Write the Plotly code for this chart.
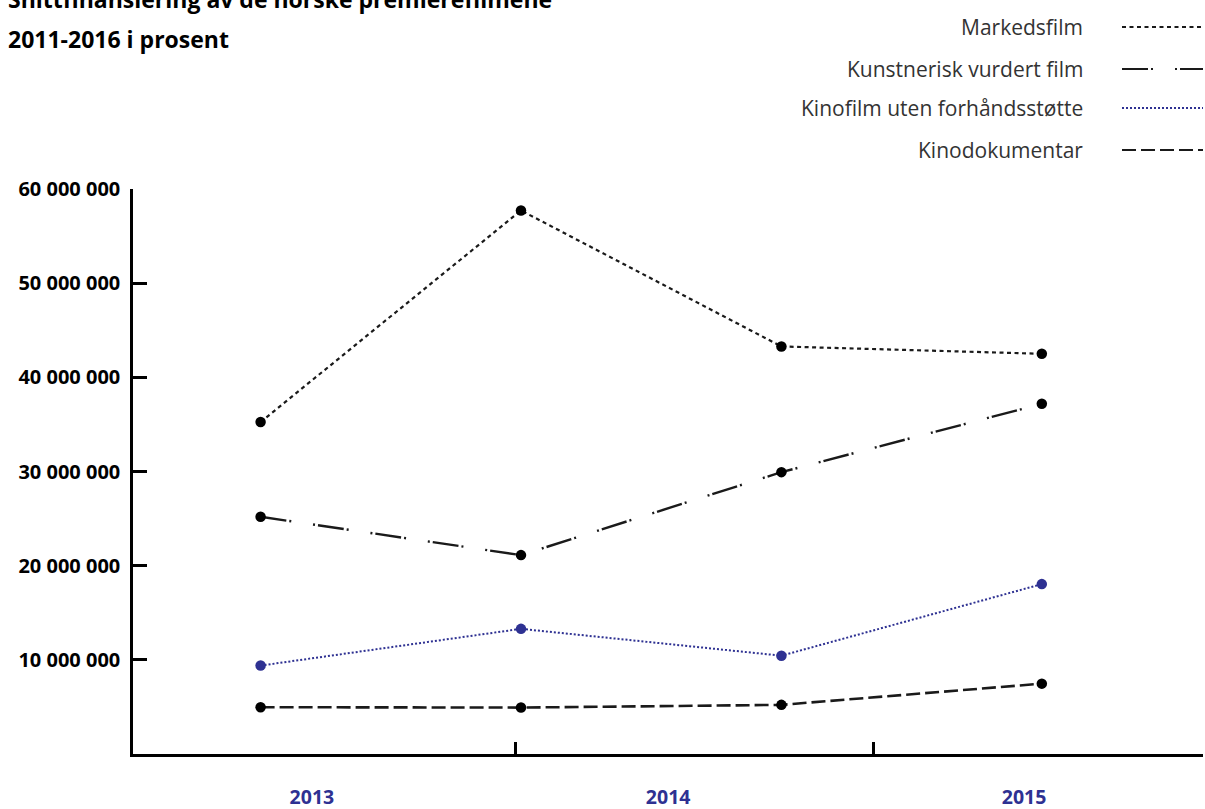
import plotly.graph_objects as go

# ---- data ----
point_index = [0, 1, 2, 3]
markedsfilm = [35.25e6, 57.72e6, 43.28e6, 42.50e6]
kunstnerisk = [25.19e6, 21.12e6, 29.93e6, 37.19e6]
kinofilm_uten = [9.39e6, 13.29e6, 10.44e6, 18.04e6]
kinodokumentar = [4.97e6, 4.93e6, 5.22e6, 7.47e6]

series_names = ["Markedsfilm", "Kunstnerisk vurdert film",
                "Kinofilm uten forhåndsstøtte", "Kinodokumentar"]
year_labels = ["2013", "2014", "2015"]
y_ticks = [10e6, 20e6, 30e6, 40e6, 50e6, 60e6]

title_line1 = "Snittfinansiering av de norske premierefilmene"
title_line2 = "2011-2016 i prosent"

# ---- styles ----
FONT = "Open Sans"
BLACK = "#1a1a1a"
BLUE = "#2e3192"
dashes = ["4px,3.5px", "26px,3px,2px,22px,2px,3px", "2px,2px", "14px,5px"]
colors = [BLACK, BLACK, BLUE, BLACK]
widths = [2.2, 2.4, 2.0, 2.6]

x_range = [-0.49, 3.619]
tick_pos = [0.977, 2.355]
label_pos = [0.197, 1.565, 2.932]

fig = go.Figure()
for name, vals, dash, col, w in zip(series_names,
                                     [markedsfilm, kunstnerisk, kinofilm_uten, kinodokumentar],
                                     dashes, colors, widths):
    fig.add_trace(go.Scatter(
        x=point_index, y=vals, name=name, mode="lines+markers",
        line=dict(color=col, width=w, dash=dash),
        marker=dict(color="#000000" if col == BLACK else BLUE, size=10.5),
        showlegend=False, cliponaxis=False,
    ))

# invisible trace for the year-label axis
fig.add_trace(go.Scatter(x=[label_pos[0]], y=[0], xaxis="x2", mode="markers",
                         marker=dict(opacity=0), showlegend=False, hoverinfo="skip"))

fig.update_layout(
    width=1205, height=809,
    margin=dict(l=133, r=2, t=189, b=55),
    paper_bgcolor="white", plot_bgcolor="white",
    separators=". ",
    font=dict(family=FONT, color=BLACK),
    xaxis=dict(range=x_range, showline=True, linecolor="#000", linewidth=2.5,
               ticks="inside", tickvals=tick_pos, ticklen=12, tickwidth=2.5,
               tickcolor="#000", showticklabels=False, showgrid=False, zeroline=False,
               automargin=False),
    xaxis2=dict(range=x_range, overlaying="x", side="bottom", anchor="y",
                tickvals=label_pos, ticktext=year_labels, ticks="",
                showline=False, showgrid=False, zeroline=False, automargin=False,
                tickfont=dict(family=FONT, size=19.5, color=BLUE, weight="bold"),
                ticklabelstandoff=29),
    yaxis=dict(range=[0, 60e6], showline=True, linecolor="#000", linewidth=2.5,
               ticks="inside", tickvals=y_ticks, tickformat=",d", ticklen=14,
               tickwidth=2.5, tickcolor="#000", showgrid=False, zeroline=False,
               automargin=False,
               tickfont=dict(family=FONT, size=20, color="#000", weight="bold"),
               ticklabelstandoff=6),
)

# title (partly cut off at the top like the reference)
fig.add_annotation(text=title_line1, xref="paper", yref="paper", x=-0.1187, y=1.337,
                   xanchor="left", yanchor="middle", showarrow=False,
                   font=dict(family=FONT, size=23, color="#000", weight="bold"))
fig.add_annotation(text=title_line2, xref="paper", yref="paper", x=-0.1187, y=1.2655,
                   xanchor="left", yanchor="middle", showarrow=False,
                   font=dict(family=FONT, size=23, color="#000", weight="bold"))

# custom legend: text on the left, line sample on the right
legend_y = [1.2867, 1.2124, 1.1434, 1.069]
for name, dash, col, ly in zip(series_names, dashes, colors, legend_y):
    fig.add_annotation(text=name, xref="paper", yref="paper", x=0.8897, y=ly,
                       xanchor="right", yanchor="middle", showarrow=False,
                       font=dict(family=FONT, size=21, color="#333333"))
    fig.add_shape(type="line", xref="paper", yref="paper", x0=0.9243, x1=1.0,
                  y0=ly, y1=ly, line=dict(color=col, width=2, dash=dash))

fig.write_html("out.html", config={"displayModeBar": False},
               post_script="document.body.style.margin='0';document.body.style.overflow='hidden';")
